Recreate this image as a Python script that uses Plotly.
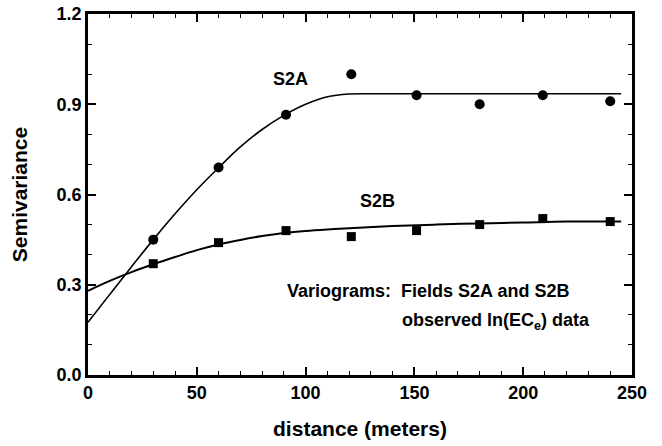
import plotly.graph_objects as go

# Observed semivariance (points)
lag_dist = [30, 60, 91, 121, 151, 180, 209, 240]
s2a_obs = [0.45, 0.69, 0.865, 1.0, 0.93, 0.90, 0.93, 0.91]
s2b_obs = [0.37, 0.44, 0.48, 0.46, 0.48, 0.50, 0.52, 0.51]

# Fitted model curves
s2a_curve_x = [0, 10, 20, 30, 40, 50, 60, 70, 80, 90, 100, 110, 120, 130, 150, 180, 210, 245]
s2a_fit = [0.175, 0.268, 0.36, 0.45, 0.536, 0.616, 0.689, 0.758, 0.816, 0.863, 0.90, 0.925, 0.934, 0.935, 0.935, 0.935, 0.935, 0.935]
s2b_curve_x = [0, 10, 20, 30, 40, 50, 60, 70, 80, 90, 100, 110, 120, 140, 160, 180, 200, 220, 245]
s2b_fit = [0.28, 0.313, 0.342, 0.368, 0.392, 0.415, 0.434, 0.449, 0.462, 0.472, 0.479, 0.484, 0.488, 0.495, 0.5, 0.504, 0.507, 0.51, 0.51]

x_ticks = [0, 50, 100, 150, 200, 250]
y_ticks = [0.0, 0.3, 0.6, 0.9, 1.2]
y_tick_labels = ["0.0", "0.3", "0.6", "0.9", "1.2"]

FONT = "Liberation Sans, Arial, Helvetica, sans-serif"

fig = go.Figure()
fig.add_trace(go.Scatter(x=s2a_curve_x, y=s2a_fit, mode="lines", line=dict(color="black", width=1.6, shape="spline", smoothing=1), hoverinfo="skip"))
fig.add_trace(go.Scatter(x=s2b_curve_x, y=s2b_fit, mode="lines", line=dict(color="black", width=2, shape="spline", smoothing=1), hoverinfo="skip"))
fig.add_trace(go.Scatter(x=lag_dist, y=s2a_obs, mode="markers", marker=dict(symbol="circle", size=10, color="black")))
fig.add_trace(go.Scatter(x=lag_dist, y=s2b_obs, mode="markers", marker=dict(symbol="square", size=9, color="black")))

fig.add_annotation(x=93, y=0.985, text="S2A", showarrow=False, font=dict(size=18, family=FONT, color="black", weight="bold"))
fig.add_annotation(x=133, y=0.577, text="S2B", showarrow=False, font=dict(size=18, family=FONT, color="black", weight="bold"))
fig.add_annotation(x=90.5, y=0.278, xanchor="left", text="Variograms:  Fields S2A and S2B", showarrow=False, font=dict(size=18, family=FONT, color="black", weight="bold"))
fig.add_annotation(x=231.5, y=0.177, xanchor="right", text="observed ln(EC<sub>e</sub>) data", showarrow=False, font=dict(size=18, family=FONT, color="black", weight="bold"))

axis_common = dict(
    showgrid=False, zeroline=False, showline=True, linecolor="black", linewidth=2.5,
    mirror="ticks", ticks="inside", ticklen=8, tickwidth=1.5, tickcolor="black",
    automargin=False, ticklabeloverflow="allow",
    tickfont=dict(size=18, family=FONT, color="black", weight="bold"),
)
fig.update_xaxes(range=[0, 250], tickvals=x_ticks, **axis_common,
                 minor=dict(dtick=10, ticks="inside", ticklen=4, tickwidth=1, tickcolor="black"),
                 title=dict(text="distance (meters)", font=dict(size=21, family=FONT, color="black", weight="bold"), standoff=19))
fig.update_yaxes(range=[0, 1.2], tickvals=y_ticks, ticktext=y_tick_labels, **axis_common,
                 minor=dict(dtick=0.1, ticks="inside", ticklen=4, tickwidth=1, tickcolor="black"),
                 title=dict(text="Semivariance", font=dict(size=21, family=FONT, color="black", weight="bold"), standoff=24))

fig.update_layout(
    width=662, height=446, showlegend=False,
    margin=dict(l=88, r=30, t=14, b=71),
    plot_bgcolor="white", paper_bgcolor="white",
)
# remove the page's default body margin so the figure fills the window
fig.write_html("out.html", config={"displayModeBar": False},
               post_script="document.body.style.margin='0';")
